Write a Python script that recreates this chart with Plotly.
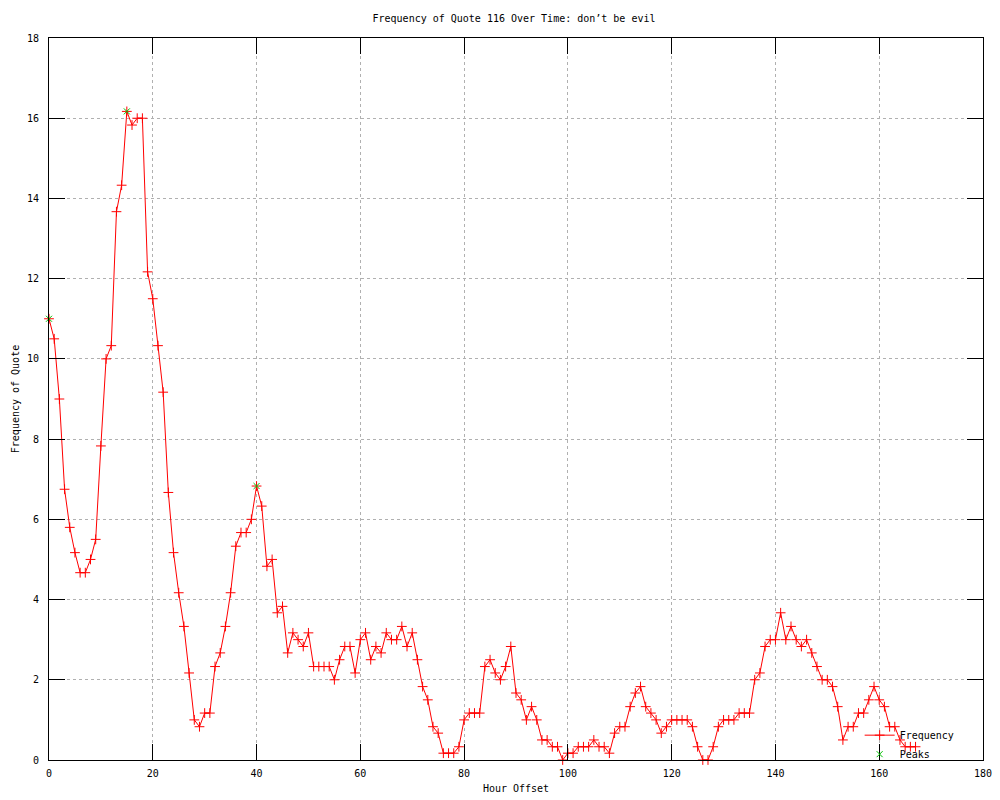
import plotly.graph_objects as go

hours = list(range(168))
frequency = [
    11.0, 10.5, 9.0, 6.75, 5.8, 5.17, 4.67, 4.67, 5.0, 5.5,
    7.83, 10.0, 10.33, 13.67, 14.33, 16.17, 15.83, 16.0, 16.0, 12.17,
    11.5, 10.33, 9.17, 6.67, 5.17, 4.17, 3.33, 2.17, 1.0, 0.83,
    1.17, 1.17, 2.33, 2.67, 3.33, 4.17, 5.33, 5.67, 5.67, 6.0,
    6.83, 6.33, 4.83, 5.0, 3.67, 3.83, 2.67, 3.17, 3.0, 2.83,
    3.17, 2.33, 2.33, 2.33, 2.33, 2.0, 2.5, 2.83, 2.83, 2.17,
    3.0, 3.17, 2.5, 2.83, 2.67, 3.17, 3.0, 3.0, 3.33, 2.83,
    3.17, 2.5, 1.83, 1.5, 0.83, 0.67, 0.17, 0.17, 0.17, 0.33,
    1.0, 1.17, 1.17, 1.17, 2.33, 2.5, 2.17, 2.0, 2.33, 2.83,
    1.67, 1.5, 1.0, 1.33, 1.0, 0.5, 0.5, 0.33, 0.33, 0.0,
    0.17, 0.17, 0.33, 0.33, 0.33, 0.5, 0.33, 0.33, 0.17, 0.67,
    0.83, 0.83, 1.33, 1.67, 1.83, 1.33, 1.17, 1.0, 0.67, 0.83,
    1.0, 1.0, 1.0, 1.0, 0.83, 0.33, 0.0, 0.0, 0.33, 0.83,
    1.0, 1.0, 1.0, 1.17, 1.17, 1.17, 2.0, 2.17, 2.83, 3.0,
    3.0, 3.67, 3.0, 3.33, 3.0, 2.83, 3.0, 2.67, 2.33, 2.0,
    2.0, 1.83, 1.33, 0.5, 0.83, 0.83, 1.17, 1.17, 1.5, 1.83,
    1.5, 1.33, 0.83, 0.83, 0.5, 0.33, 0.33, 0.33,
]
peak_hours = [0, 15, 40]
peak_values = [11.0, 16.17, 6.83]

x_ticks = list(range(0, 181, 20))
y_ticks = list(range(0, 19, 2))

FONT = "DejaVu Sans Mono"

fig = go.Figure()
fig.add_trace(go.Scatter(
    x=hours, y=frequency, name="Frequency", mode="lines+markers",
    line=dict(color="#ff0000", width=1),
    marker=dict(symbol="cross-thin", size=7, line=dict(color="#ff0000", width=1)),
    cliponaxis=False,
))
fig.add_trace(go.Scatter(
    x=peak_hours, y=peak_values, name="Peaks", mode="markers",
    marker=dict(symbol="x-thin", size=6, line=dict(color="#00c000", width=1)),
    cliponaxis=False,
))

axis_common = dict(
    showline=True, linecolor="black", linewidth=1, mirror="ticks",
    ticks="inside", ticklen=16, tickwidth=1, tickcolor="black",
    showgrid=True, gridcolor="#b0b0b0", griddash="dot", gridwidth=1,
    zeroline=False, automargin=False,
    tickfont=dict(family=FONT, size=10, color="black"),
)

# the page adds an 8 px body margin, so the figure is 992x792
fig.update_layout(
    width=992, height=792,
    margin=dict(l=41, r=17, t=30, b=40),
    paper_bgcolor="white", plot_bgcolor="white",
    font=dict(family=FONT, size=10, color="black"),
    title=dict(text="Frequency of Quote 116 Over Time: don’t be evil",
               x=506 / 992, xref="container", xanchor="center",
               y=1 - 10 / 792, yref="container", yanchor="middle",
               font=dict(family=FONT, size=10, color="black")),
    xaxis=dict(range=[0, 180], tickvals=x_ticks, ticklabelstandoff=4,
               title=dict(text="Hour Offset", standoff=6,
                          font=dict(family=FONT, size=10)),
               **axis_common),
    yaxis=dict(range=[0, 18], tickvals=y_ticks, ticklabelstandoff=7,
               title=dict(text="Frequency of Quote", standoff=5,
                          font=dict(family=FONT, size=10)),
               **axis_common),
    legend=dict(x=0.975, xanchor="right", y=-0.012, yanchor="bottom",
                bgcolor="rgba(0,0,0,0)", borderwidth=0,
                font=dict(family=FONT, size=10), tracegroupgap=0,
                itemwidth=30),
    showlegend=True,
)

fig.write_html("out.html")
